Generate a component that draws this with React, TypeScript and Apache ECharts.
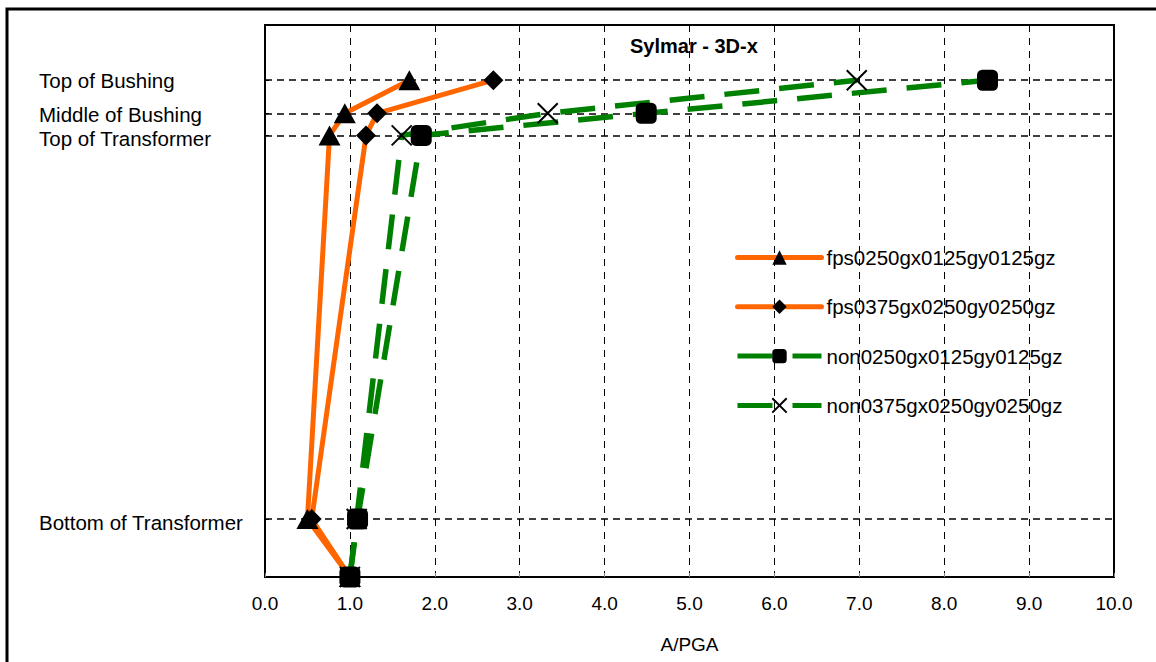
import React, { useEffect, useRef } from "react";
import * as echarts from "echarts";

const FONT = "'Liberation Sans', Arial, sans-serif";

// Height levels (arbitrary units, 0 = ground)
const levelValues = [0, 10.5, 80, 84, 90];
const levelNames = ["", "Bottom of Transformer", "Top of Transformer", "Middle of Bushing", "Top of Bushing"];
const labelShift = [0, 3.5, 3, 1.5, 0.5];

const seriesNames = [
  "fps0250gx0125gy0125gz",
  "fps0375gx0250gy0250gz",
  "non0250gx0125gy0125gz",
  "non0375gx0250gy0250gz",
];

// A/PGA at each level (ground, bottom of transformer, top of transformer, middle of bushing, top of bushing)
const fps0250 = [1.0, 0.5, 0.76, 0.94, 1.7];
const fps0375 = [1.0, 0.55, 1.19, 1.32, 2.69];
const non0250 = [1.0, 1.09, 1.84, 4.49, 8.51];
const non0375 = [1.0, 1.08, 1.61, 3.33, 6.97];

const ORANGE = "#FF6600";
const GREEN = "#008000";
const DASH = [35, 20];

export default function App() {
  const ref = useRef<HTMLDivElement>(null);

  useEffect(() => {
    if (!ref.current) return;
    const chart = echarts.init(ref.current, undefined, { renderer: "svg" });

    const toPairs = (arr: number[]) => arr.map((x, i) => [x, levelValues[i]]);
    const rich: Record<string, any> = {};
    levelNames.forEach((n, i) => {
      rich["l" + i] = {
        fontSize: 20.5,
        fontFamily: FONT,
        color: "#000",
        padding: [labelShift[i] * 2, 0, 0, 0],
      };
    });

    const option: any = {
      animation: false,
      backgroundColor: "#fff",
      title: {
        text: "Sylmar - 3D-x",
        left: 630,
        top: 36,
        padding: 0,
        textStyle: { fontFamily: FONT, fontSize: 20, fontWeight: "bold", color: "#000" },
      },
      graphic: [
        {
          type: "rect",
          shape: { x: 7, y: 9, width: 1200, height: 700 },
          style: { fill: "none", stroke: "#000", lineWidth: 3 },
          silent: true,
        },
      ],
      legend: {
        orient: "vertical",
        left: 735,
        top: 247,
        padding: 0,
        itemWidth: 84,
        itemHeight: 18,
        itemGap: 28.3,
        textStyle: { fontFamily: FONT, fontSize: 20.5, color: "#000" },
        lineStyle: { width: "inherit", type: "inherit", cap: "inherit" },
        data: [
          { name: seriesNames[0], lineStyle: { width: 5, type: "solid" } },
          { name: seriesNames[1], lineStyle: { width: 5, type: "solid" } },
          { name: seriesNames[2], lineStyle: { width: 5, type: DASH } },
          { name: seriesNames[3], lineStyle: { width: 5, type: DASH } },
        ],
      },
      grid: {
        left: 265,
        right: 42,
        top: 25,
        bottom: 85,
        show: true,
        borderColor: "#000",
        borderWidth: 2,
        backgroundColor: "transparent",
      },
      xAxis: {
        type: "value",
        min: 0,
        max: 10,
        interval: 1,
        name: "A/PGA",
        nameLocation: "middle",
        nameGap: 58,
        nameTextStyle: { fontFamily: FONT, fontSize: 19, color: "#000" },
        axisLine: { show: true, lineStyle: { color: "#000", width: 2 } },
        axisTick: { show: true, inside: true, length: 4, lineStyle: { color: "#888" } },
        axisLabel: {
          fontFamily: FONT,
          fontSize: 19,
          color: "#000",
          margin: 17,
          formatter: (v: number) => v.toFixed(1),
        },
        splitLine: { show: true, lineStyle: { color: "#000", type: [7, 6], width: 1 } },
      },
      yAxis: {
        type: "value",
        min: 0,
        max: 100,
        axisLine: { show: true, lineStyle: { color: "#000", width: 2 } },
        axisTick: {
          show: true,
          inside: true,
          length: 4,
          customValues: levelValues.slice(1),
          lineStyle: { color: "#000" },
        },
        axisLabel: {
          show: true,
          customValues: levelValues.slice(1),
          align: "left",
          margin: 226,
          formatter: (v: number) => {
            const i = levelValues.indexOf(v);
            return i > 0 ? "{l" + i + "|" + levelNames[i] + "}" : "";
          },
          rich,
        },
        splitLine: { show: false },
      },
      series: [
        {
          name: seriesNames[0],
          type: "line",
          data: toPairs(fps0250),
          symbol: "triangle",
          symbolSize: [22, 20],
          lineStyle: { color: ORANGE, width: 5, cap: "round", join: "round" },
          itemStyle: { color: "#000" },
          markLine: {
            silent: true,
            symbol: "none",
            z: 1,
            label: { show: false },
            lineStyle: { color: "#000", type: [7, 5], width: 1.5 },
            data: levelValues.slice(1).map((v) => ({ yAxis: v })),
          },
        },
        {
          name: seriesNames[1],
          type: "line",
          data: toPairs(fps0375),
          symbol: "diamond",
          symbolSize: [20, 20],
          lineStyle: { color: ORANGE, width: 5, cap: "round", join: "round" },
          itemStyle: { color: "#000" },
        },
        {
          name: seriesNames[3],
          type: "line",
          data: toPairs(non0375),
          symbol: "path://M0,0L20,20M20,0L0,20",
          symbolSize: 20,
          lineStyle: { color: GREEN, width: 5.5, type: DASH },
          itemStyle: { color: "#000", borderColor: "#000", borderWidth: 2 },
        },
        {
          name: seriesNames[2],
          type: "line",
          data: toPairs(non0250),
          symbol: "roundRect",
          symbolSize: 21,
          lineStyle: { color: GREEN, width: 5.5, type: DASH },
          itemStyle: { color: "#000" },
        },
      ],
    };

    chart.setOption(option);
    return () => chart.dispose();
  }, []);

  return (
    <div
      ref={ref}
      style={{ position: "fixed", left: 0, top: 0, width: 1156, height: 662, background: "#fff" }}
    />
  );
}
